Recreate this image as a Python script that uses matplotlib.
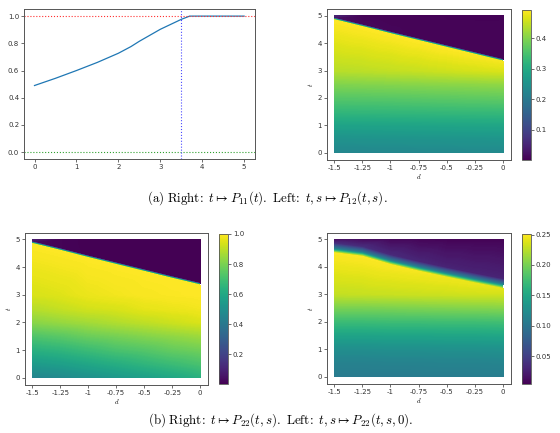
import numpy as np
import matplotlib
matplotlib.use("Agg")
import matplotlib.pyplot as plt
import matplotlib.tri as mtri
from matplotlib.cm import ScalarMappable
from matplotlib.colors import Normalize

plt.rcParams['mathtext.fontset'] = 'cm'

# ---------------- data ----------------
# (a) left: t -> P11(t)
t_curve = [0, 0.5, 1, 1.5, 2, 2.3, 2.5, 3, 3.5, 3.7, 4, 4.5, 5]
p11 = [0.49, 0.543, 0.6, 0.66, 0.727, 0.776, 0.815, 0.903, 0.976, 1.0, 1.0, 1.0, 1.0]
t_threshold = 3.5

# heatmap grid
d_cols = [-1.5, -1.25, -1.0, -0.75, -0.5, -0.25, 0.0]
t_rows = [0, 0.5, 1, 1.5, 2, 2.5, 3]
d_ticks = [-1.5, -1.25, -1, -0.75, -0.5, -0.25, 0]
d_ticklabels = ["-1.5", "-1.25", "-1", "-0.75", "-0.5", "-0.25", "0"]
t_ticks = [0, 1, 2, 3, 4, 5]

# (a) right: P12(t, s)
p12_boundary = [4.87, 4.62, 4.36, 4.11, 3.86, 3.61, 3.36]
p12_lower = [
    [0.226, 0.227, 0.228, 0.229, 0.230, 0.231, 0.232],
    [0.250, 0.251, 0.252, 0.253, 0.254, 0.255, 0.256],
    [0.283, 0.284, 0.285, 0.286, 0.287, 0.288, 0.289],
    [0.325, 0.326, 0.327, 0.328, 0.329, 0.330, 0.331],
    [0.362, 0.363, 0.364, 0.366, 0.368, 0.370, 0.372],
    [0.398, 0.400, 0.402, 0.404, 0.406, 0.408, 0.410],
    [0.440, 0.443, 0.447, 0.451, 0.456, 0.461, 0.466],
]
p12_below = [0.493, 0.493, 0.493, 0.493, 0.493, 0.49, 0.485]
p12_above = [0.02, 0.01, 0.008, 0.006, 0.005, 0.005, 0.006]
p12_top = [0.05, 0.006, 0.004, 0.003, 0.003, 0.003, 0.003]
p12_clim = (0.0, 0.493)

# (b) left: P22(t, s)
p22_boundary = [4.87, 4.62, 4.36, 4.11, 3.86, 3.61, 3.37]
p22_lower = [
    [0.45, 0.47, 0.50, 0.53, 0.56, 0.59, 0.63],
    [0.54, 0.56, 0.59, 0.62, 0.65, 0.68, 0.71],
    [0.63, 0.65, 0.68, 0.71, 0.73, 0.76, 0.78],
    [0.72, 0.74, 0.77, 0.79, 0.81, 0.83, 0.85],
    [0.82, 0.84, 0.86, 0.88, 0.90, 0.92, 0.94],
    [0.89, 0.91, 0.93, 0.94, 0.96, 0.97, 0.98],
    [0.94, 0.95, 0.97, 0.98, 0.99, 0.995, 1.0],
]
p22_below = [1.0, 1.0, 1.0, 1.0, 1.0, 1.0, 1.0]
p22_above = [0.03, 0.01, 0.005, 0.004, 0.004, 0.004, 0.004]
p22_top = [0.08, 0.01, 0.004, 0.003, 0.003, 0.003, 0.003]
p22_clim = (0.003, 1.0)

# (b) right: P22(t, s, 0)
p220_boundary = [4.55, 4.42, 4.12, 3.88, 3.66, 3.45, 3.25]
p220_lower = [
    [0.105, 0.105, 0.105, 0.106, 0.106, 0.107, 0.107],
    [0.112, 0.112, 0.113, 0.113, 0.114, 0.114, 0.115],
    [0.125, 0.125, 0.126, 0.126, 0.127, 0.127, 0.128],
    [0.146, 0.146, 0.147, 0.147, 0.148, 0.148, 0.149],
    [0.172, 0.172, 0.173, 0.173, 0.174, 0.174, 0.175],
    [0.200, 0.200, 0.201, 0.202, 0.203, 0.204, 0.205],
    [0.228, 0.229, 0.230, 0.231, 0.232, 0.233, 0.233],
]
p220_below = [0.25, 0.25, 0.249, 0.247, 0.245, 0.243, 0.24]
p220_mid = [0.11, 0.11, 0.11, 0.11, 0.11, 0.11, 0.11]
p220_above = [0.035, 0.035, 0.033, 0.03, 0.028, 0.028, 0.028]
p220_top = [0.012, 0.01, 0.008, 0.007, 0.006, 0.006, 0.006]
p220_clim = (0.004, 0.251)

# ---------------- drawing ----------------
FS = 5
SPINE = '#555555'


def style_axes(ax):
    for s in ax.spines.values():
        s.set_color(SPINE)
        s.set_linewidth(0.7)
    ax.tick_params(labelsize=FS, length=2, width=0.5, pad=1.5,
                   colors='#333333')


def build_tri(boundary, lower, extra, top):
    d = np.asarray(d_cols, float)
    ys = [np.full_like(d, t) for t in t_rows]
    cs = [np.asarray(r, float) for r in lower]
    b = np.asarray(boundary, float)
    for off, vals in extra:
        ys.append(b + off)
        cs.append(np.asarray(vals, float))
    ys.append(np.full_like(d, 5.0))
    cs.append(np.asarray(top, float))
    Y = np.vstack(ys)
    C = np.vstack(cs)
    X = np.tile(d, (Y.shape[0], 1))
    nr, nc = Y.shape
    tris = []
    for i in range(nr - 1):
        for j in range(nc - 1):
            a = i * nc + j
            tris.append([a, a + 1, a + nc + 1])
            tris.append([a, a + nc + 1, a + nc])
    tri = mtri.Triangulation(X.ravel(), Y.ravel(), np.array(tris))
    return tri, C.ravel()


def heat(ax_rect, cax_rect, boundary, lower, extra, top, clim, cticks):
    ax = fig.add_axes(ax_rect)
    tri, c = build_tri(boundary, lower, extra, top)
    levels = np.linspace(clim[0], clim[1], 300)
    ax.tricontourf(tri, c, levels=levels, cmap='viridis',
                   extend='both', antialiased=False)
    ax.set_xlim(-1.565, 0.07)
    ax.set_ylim(-0.26, 5.23)
    ax.set_xticks(d_ticks)
    ax.set_xticklabels(d_ticklabels)
    ax.set_yticks(t_ticks)
    ax.set_xlabel('$d$', fontsize=FS, labelpad=0.5)
    ax.set_ylabel('$t$', fontsize=FS, labelpad=2)
    style_axes(ax)
    cax = fig.add_axes(cax_rect)
    sm = ScalarMappable(norm=Normalize(*clim), cmap='viridis')
    cb = fig.colorbar(sm, cax=cax, ticks=cticks)
    cb.outline.set_edgecolor(SPINE)
    cb.outline.set_linewidth(0.6)
    cax.tick_params(labelsize=FS, length=2, width=0.5, pad=1.5,
                    colors='#333333')
    return ax


fig = plt.figure(figsize=(5.6, 4.33), dpi=100)

# (a) left
ax1 = fig.add_axes([0.0429, 0.6328, 0.4125, 0.3457])
ax1.plot(t_curve, p11, color='C0', lw=0.9)
ax1.axhline(1.0, color='#ff3030', ls=':', lw=0.8)
ax1.axhline(0.0, color='#30a030', ls=':', lw=0.8)
ax1.axvline(t_threshold, color='#4a4aff', ls=':', lw=0.8)
ax1.set_xlim(-0.25, 5.26)
ax1.set_ylim(-0.05, 1.05)
ax1.set_xticks([0, 1, 2, 3, 4, 5])
ax1.set_yticks([0.0, 0.2, 0.4, 0.6, 0.8, 1.0])
style_axes(ax1)

# (a) right
heat([0.5834, 0.6305, 0.3291, 0.348], [0.9316, 0.6305, 0.0161, 0.3464],
     p12_boundary, p12_lower,
     [(-0.03, p12_below), (0.05, p12_above)], p12_top, p12_clim,
     [0.1, 0.2, 0.3, 0.4])

# (b) left
heat([0.0446, 0.1109, 0.3268, 0.351], [0.3911, 0.1132, 0.0161, 0.3464],
     p22_boundary, p22_lower,
     [(-0.03, p22_below), (0.05, p22_above)], p22_top, p22_clim,
     [0.2, 0.4, 0.6, 0.8, 1.0])

# (b) right
heat([0.5834, 0.1132, 0.3291, 0.3487], [0.9321, 0.1132, 0.0155, 0.3464],
     p220_boundary, p220_lower,
     [(-0.05, p220_below), (0.1, p220_mid), (0.3, p220_above)],
     p220_top, p220_clim,
     [0.05, 0.10, 0.15, 0.20, 0.25])

cap_a = (r"$\mathrm{(a)\ Right\!:}\ t \mapsto P_{11}(t).\ "
         r"\mathrm{Left\!:}\ t, s \mapsto P_{12}(t, s).$")
cap_b = (r"$\mathrm{(b)\ Right\!:}\ t \mapsto P_{22}(t, s).\ "
         r"\mathrm{Left\!:}\ t, s \mapsto P_{22}(t, s, 0).$")
fig.text(0.4777, 0.5427, cap_a, ha='center', va='center', fontsize=9.3)
fig.text(0.502, 0.030, cap_b, ha='center', va='center', fontsize=9.3)

fig.savefig('out.png', dpi=100)
